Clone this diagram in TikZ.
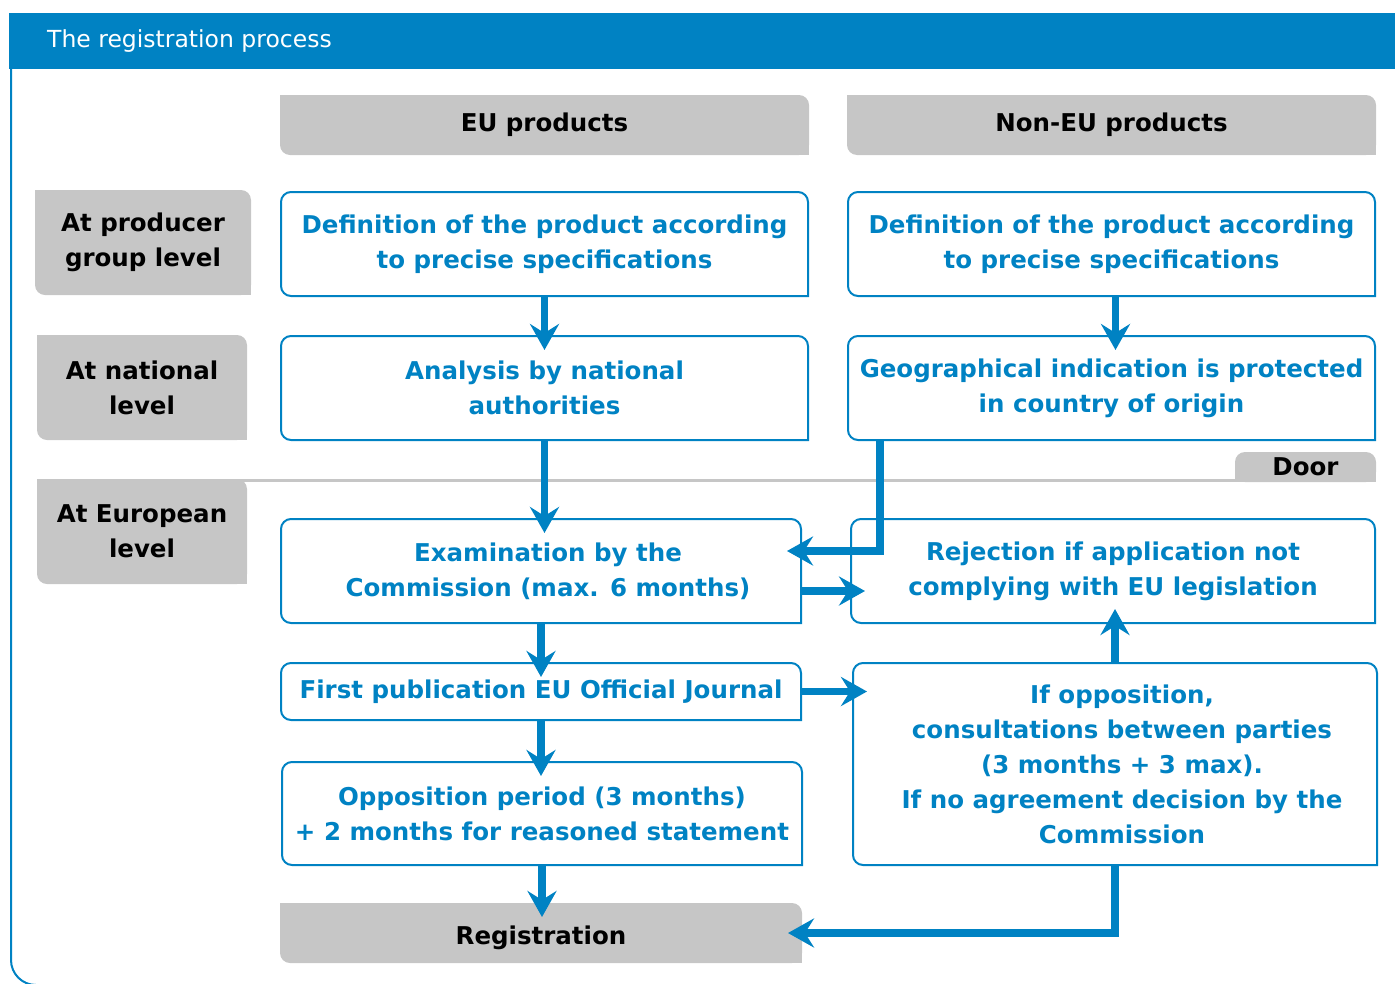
\documentclass[tikz,border=0pt]{standalone}
\usepackage{fontspec}
\setmainfont{DejaVu Sans}
\usetikzlibrary{arrows.meta,calc,backgrounds}
\definecolor{eublue}{RGB}{0,130,195}
\definecolor{eugray}{RGB}{198,198,198}
\newcommand{\bluebox}[1]{\draw[boxline] (#1.south east) -- (#1.south west) -- (#1.north west) -- (#1.north east) -- (#1.south east);}
\newcommand{\graybox}[1]{\fill[eugray, rounded corners=10pt] (#1.north west) rectangle (#1.south east);
  \fill[eugray] (#1.north west) rectangle ++(12,12);
  \fill[eugray] (#1.south east) rectangle ++(-12,-12);}
\newcommand{\sh}{\hspace*{14pt}}
\begin{document}
\begin{tikzpicture}[x=1pt,y=-1pt,
  lab/.style={inner sep=0pt, outer sep=0pt, align=center, font=\fontsize{24.5}{35}\selectfont\bfseries},
  bluetxt/.style={lab, text=eublue, anchor=north west},
  graytxt/.style={lab, text=black, anchor=north west},
  boxline/.style={draw=eublue, line width=2pt, rounded corners=10pt, line cap=rect},
  arr/.style={draw=eublue, line width=7.5pt, -{Stealth[length=26pt,width=29pt,inset=9pt]}, shorten >=-14pt},
]
\useasboundingbox (0,0) rectangle (1395,983);
% frame
\fill[eublue] (9,13) rectangle (1395,69);
\draw[eublue, line width=2pt, rounded corners=25pt] (11,69) -- (11,985) -- (1395,985);
\node[anchor=base west, inner sep=0pt, text=white, font=\fontsize{23.5}{26}\selectfont] (title) at (47,47) {The registration process};

% column heads
\node[graytxt, minimum width=529pt, minimum height=60pt] (eu) at (280,95) {EU products};
\node[graytxt, minimum width=529pt, minimum height=60pt] (noneu) at (847,95) {Non-EU products};
% row labels
\node[graytxt, minimum width=216pt, minimum height=105pt] (prod) at (35,190) {At producer\\group level};
\node[graytxt, minimum width=210pt, minimum height=105pt] (nat) at (37,335) {At national\\level};
\node[graytxt, minimum width=210pt, minimum height=105pt] (euro) at (37,479) {At European\\level};
% door
\node[graytxt, minimum width=141pt, minimum height=30pt] (door) at (1235,452) {Door};
% registration
\node[graytxt, minimum width=522pt, minimum height=60pt] (reg) at (280,903) {\raisebox{-11.5pt}[0pt][0pt]{Registration}};

% blue boxes
\node[bluetxt, minimum width=527pt, minimum height=104pt] (defeu) at (281,192) {Definition of the product according\\to precise specifications};
\node[bluetxt, minimum width=527pt, minimum height=104pt] (defnon) at (848,192) {Definition of the product according\\to precise specifications};
\node[bluetxt, minimum width=527pt, minimum height=104pt] (anal) at (281,336) {Analysis by national\\authorities};
\node[bluetxt, minimum width=527pt, minimum height=104pt] (geo) at (848,336) {Geographical indication is protected\\in country of origin};
\node[bluetxt, minimum width=520pt, minimum height=104pt] (exam) at (281,519) {\sh Examination by the\\\sh Commission (max. 6 months)};
\node[bluetxt, minimum width=524pt, minimum height=104pt] (rej) at (851,519) {Rejection if application not\\complying with EU legislation};
\node[bluetxt, minimum width=520pt, minimum height=57pt] (pub) at (281,663) {First publication EU Official Journal};
\node[bluetxt, minimum width=520pt, minimum height=103pt] (opp) at (282,762) {Opposition period (3 months)\\+ 2 months for reasoned statement};
\node[bluetxt, minimum width=524pt, minimum height=202pt] (ifopp) at (853,663) {\sh If opposition,\\\sh consultations between parties\\\sh (3 months + 3 max).\\\sh If no agreement decision by the\\\sh Commission};

\begin{scope}[on background layer]
  \fill[eugray] (226,478.5) rectangle (1240,481.5);
  \graybox{eu}
  \graybox{noneu}
  \graybox{prod}
  \graybox{nat}
  \graybox{euro}
  \graybox{reg}
  \fill[eugray, rounded corners=10pt] (door.north west) rectangle (door.south east);
  \fill[eugray] (door.south west) rectangle ([yshift=12pt]door.south east);
\end{scope}

\bluebox{defeu}
\bluebox{defnon}
\bluebox{anal}
\bluebox{geo}
\bluebox{exam}
\bluebox{rej}
\bluebox{pub}
\bluebox{opp}
\bluebox{ifopp}

% connectors
\draw[arr] (defeu.south) -- (anal.north);
\draw[arr] ([xshift=4pt]defnon.south) -- ([xshift=4pt]geo.north);
\draw[arr] (anal.south) -- (anal.south |- exam.north);
\draw[arr] ([xshift=32pt]geo.south west) |- ([yshift=20pt]exam.east);
\draw[arr] ([yshift=-20pt]exam.east) -- ([yshift=-20pt]exam.east -| rej.west);
\draw[arr] (exam.south) -- (exam.south |- pub.north);
\draw[arr] (pub.east) -- (pub.east -| ifopp.west);
\draw[arr] (pub.south) -- (pub.south |- opp.north);
\draw[arr] (opp.south) -- (opp.south |- reg.north);
\draw[arr] (ifopp.north) -- (ifopp.north |- rej.south);
\draw[arr] (ifopp.south) |- (reg.east);
\end{tikzpicture}
\end{document}
